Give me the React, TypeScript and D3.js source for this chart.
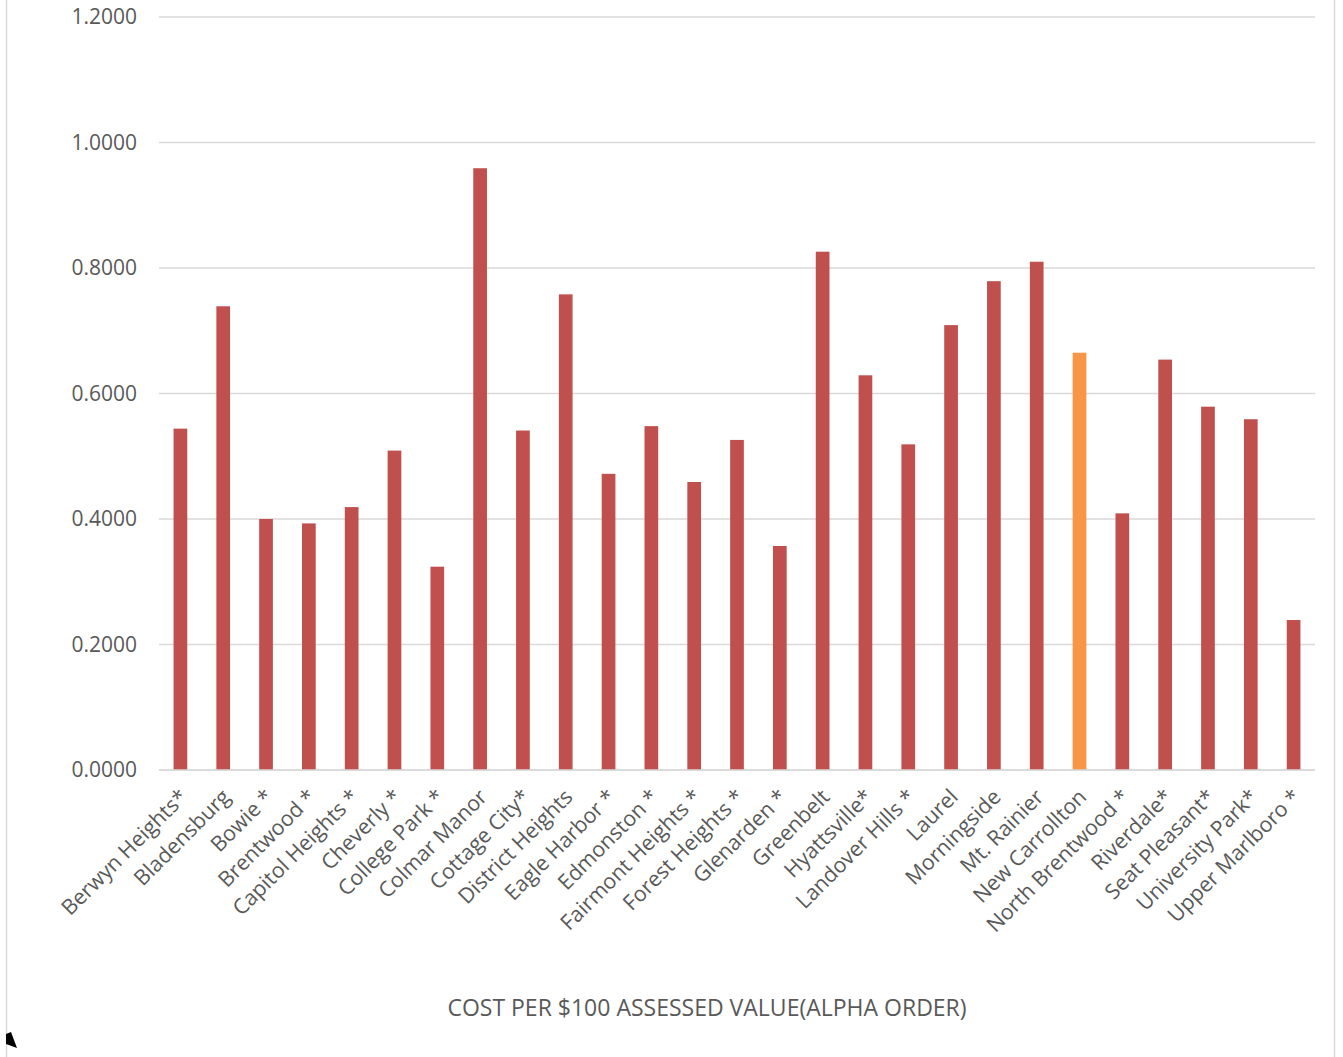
import React, { useEffect, useRef } from "react";
import * as d3 from "d3";

// towns in alpha order
const towns = [
  "Berwyn Heights*", "Bladensburg", "Bowie *", "Brentwood *", "Capitol Heights *",
  "Cheverly *", "College Park *", "Colmar Manor", "Cottage City*", "District Heights",
  "Eagle Harbor *", "Edmonston *", "Fairmont Heights *", "Forest Heights *", "Glenarden *",
  "Greenbelt", "Hyattsville*", "Landover Hills *", "Laurel", "Morningside",
  "Mt. Rainier", "New Carrollton", "North Brentwood *", "Riverdale*", "Seat Pleasant*",
  "University Park*", "Upper Marlboro *",
];
const costs = [
  0.544, 0.739, 0.4, 0.393, 0.419,
  0.509, 0.324, 0.959, 0.541, 0.758,
  0.472, 0.548, 0.459, 0.526, 0.357,
  0.826, 0.629, 0.519, 0.709, 0.779,
  0.81, 0.665, 0.409, 0.654, 0.579,
  0.559, 0.239,
];
const highlight = ["New Carrollton"];
const yTicks = [0, 0.2, 0.4, 0.6, 0.8, 1.0, 1.2];
const axisTitle = "COST PER $100 ASSESSED VALUE(ALPHA ORDER)";

const App = () => {
  const ref = useRef(null);

  useEffect(() => {
    const svg = d3.select(ref.current);
    svg.selectAll("*").remove();

    const height = 1057;
    const left = 159;
    const right = 1315;
    const top = 17;
    const bottom = 770;
    const font = "'Open Sans', 'Liberation Sans', sans-serif";
    const textColor = "#595959";

    // frame lines at the page edges
    svg.append("line")
      .attr("x1", 6.5).attr("x2", 6.5).attr("y1", 0).attr("y2", height)
      .attr("stroke", "#d9d9d9").attr("stroke-width", 1.5);
    svg.append("line")
      .attr("x1", 1334.5).attr("x2", 1334.5).attr("y1", 0).attr("y2", height)
      .attr("stroke", "#d9d9d9").attr("stroke-width", 1.5);

    const x = d3.scaleBand().domain(towns).range([left, right]).paddingInner(0.68).paddingOuter(0.34);
    const y = d3.scaleLinear().domain([0, 1.2]).range([bottom, top]);

    // gridlines + tick labels
    const grid = svg.append("g");
    grid.selectAll("line")
      .data(yTicks)
      .join("line")
      .attr("x1", left).attr("x2", right)
      .attr("y1", (d) => y(d)).attr("y2", (d) => y(d))
      .attr("stroke", "#d9d9d9").attr("stroke-width", 1.5);
    grid.selectAll("text")
      .data(yTicks)
      .join("text")
      .attr("x", 137)
      .attr("y", (d) => y(d))
      .attr("dy", "0.35em")
      .attr("text-anchor", "end")
      .attr("fill", textColor)
      .style("font-family", font)
      .style("font-size", "21px")
      .text((d) => d3.format(".4f")(d));

    // bars
    svg.append("g")
      .selectAll("rect")
      .data(towns)
      .join("rect")
      .attr("x", (d) => x(d))
      .attr("width", x.bandwidth())
      .attr("y", (d, i) => y(costs[i]))
      .attr("height", (d, i) => bottom - y(costs[i]))
      .attr("fill", (d) => (highlight.includes(d) ? "#F79646" : "#C0504D"));

    // redraw baseline over bars
    svg.append("line")
      .attr("x1", left).attr("x2", right).attr("y1", bottom).attr("y2", bottom)
      .attr("stroke", "#d9d9d9").attr("stroke-width", 1.5);

    // category labels, rotated
    svg.append("g")
      .selectAll("text")
      .data(towns)
      .join("text")
      .attr("transform", (d) => `translate(${x(d) + x.bandwidth() / 2 + 3}, 793) rotate(-45)`)
      .attr("text-anchor", "end")
      .attr("dy", "0.35em")
      .attr("fill", textColor)
      .style("font-family", font)
      .style("font-size", "21.3px")
      .text((d) => d);

    svg.append("text")
      .attr("x", 707)
      .attr("y", 1008)
      .attr("dy", "0.35em")
      .attr("text-anchor", "middle")
      .attr("fill", textColor)
      .style("font-family", font)
      .style("font-size", "23px")
      .text(axisTitle);

    // little cursor mark in the corner
    svg.append("path")
      .attr("d", "M6,1034 L11,1032 L17,1048 L6,1044 Z")
      .attr("fill", "#000");
  }, []);

  return (
    <svg
      ref={ref}
      width="1343"
      height="1057"
      style={{ position: "absolute", left: 0, top: 0, background: "#fff" }}
    ></svg>
  );
};

export default App;
